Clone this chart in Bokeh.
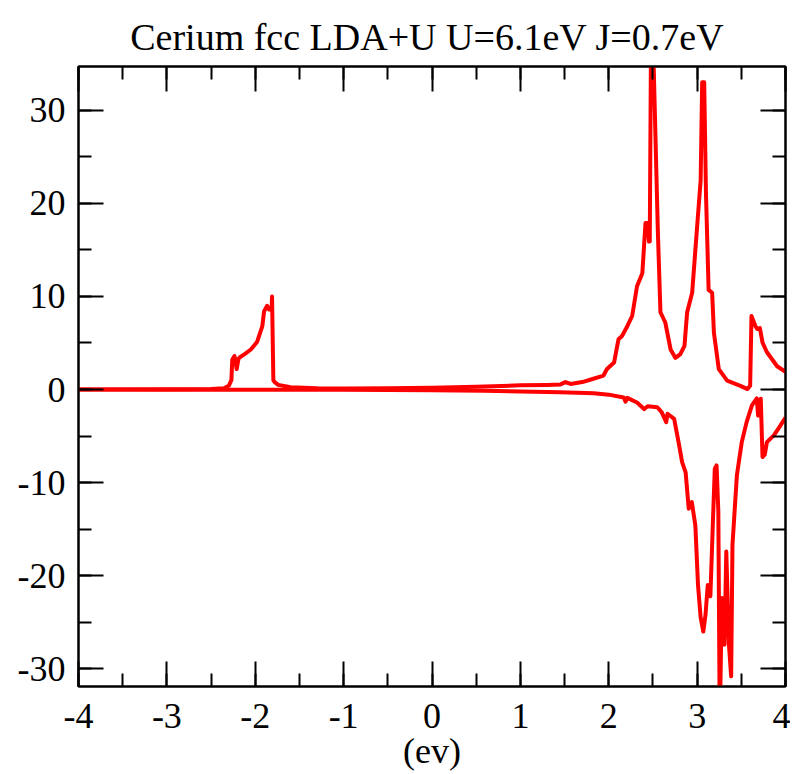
from bokeh.plotting import figure
from bokeh.models import (Range1d, LinearAxis, SingleIntervalTicker, ColumnDataSource, Title,
                          CustomJSTickFormatter)
from bokeh.embed import file_html
from bokeh.resources import INLINE

# ---- data ----
title_text = "Cerium  fcc LDA+U U=6.1eV J=0.7eV"
x_label = "(ev)"

up_energy = [-4.0, -3.0, -2.5, -2.35, -2.30, -2.27, -2.26, -2.235, -2.21, -2.19, -2.17,
             -2.12, -2.05, -1.98, -1.92, -1.90, -1.865, -1.845, -1.83, -1.815, -1.81,
             -1.795, -1.78, -1.74, -1.6, -1.3, -1.0, -0.5, 0.0, 0.5, 1.0, 1.3, 1.454,
             1.51, 1.567, 1.7, 1.79, 1.94, 1.98, 2.06, 2.11, 2.15, 2.21, 2.265, 2.32,
             2.38, 2.416, 2.44, 2.455, 2.464, 2.48, 2.49, 2.50, 2.555, 2.585, 2.64,
             2.70, 2.755, 2.81, 2.857, 2.887, 2.944, 3.00, 3.04, 3.057, 3.08, 3.10,
             3.13, 3.17, 3.19, 3.245, 3.34, 3.49, 3.57, 3.60, 3.615, 3.66, 3.68, 3.71,
             3.74, 3.79, 3.905, 4.0]
up_dos = [0.0, 0.02, 0.05, 0.15, 0.4, 1.0, 3.2, 3.6, 2.2, 3.3, 3.5,
          3.8, 4.3, 5.1, 6.8, 8.4, 9.0, 8.6, 8.8, 8.5, 10.0,
          1.0, 0.8, 0.5, 0.25, 0.15, 0.12, 0.15, 0.2, 0.3, 0.45, 0.5, 0.55,
          0.8, 0.6, 0.8, 1.05, 1.5, 2.2, 2.9, 5.4, 5.75, 6.8, 7.9, 11.1,
          12.5, 17.9, 17.9, 15.9, 15.9, 40.0, 31.0, 38.0, 17.2, 8.3, 7.2,
          4.3, 3.4, 3.8, 4.7, 8.3, 10.4, 17.5, 22.5, 33.0, 33.0, 21.1,
          10.7, 10.4, 6.1, 2.2, 0.95, 0.4, 0.05, 0.4, 7.9, 6.8, 6.5, 6.6,
          5.05, 4.0, 2.5, 1.9]

dn_energy = [-4.0, -3.0, -2.0, -1.0, -0.5, 0.0, 0.58, 1.0, 1.45, 1.83, 2.0, 2.17, 2.19,
             2.21, 2.32, 2.40, 2.44, 2.55, 2.60, 2.65, 2.665, 2.74, 2.79, 2.83, 2.87,
             2.905, 2.94, 2.98, 3.01, 3.04, 3.07, 3.095, 3.12, 3.15, 3.18, 3.20, 3.22,
             3.24, 3.256, 3.28, 3.31, 3.33, 3.36, 3.385, 3.40, 3.45, 3.505, 3.56, 3.62,
             3.675, 3.69, 3.72, 3.74, 3.765, 3.79, 3.87, 3.94, 4.0]
dn_dos = [0.0, -0.02, -0.03, -0.03, -0.05, -0.08, -0.13, -0.2, -0.3, -0.4, -0.55, -0.85, -1.3,
          -0.9, -1.4, -2.1, -1.8, -1.9, -2.45, -3.5, -2.6, -3.15, -5.65, -7.8, -8.9,
          -12.8, -12.1, -14.6, -21.0, -24.5, -26.0, -24.2, -21.0, -22.2, -13.85, -8.5, -8.15,
          -13.1, -36.0, -22.4, -27.4, -17.4, -27.4, -30.8, -16.7, -9.2, -5.65, -3.5, -1.7,
          -0.95, -2.8, -1.0, -7.25, -7.0, -5.65, -4.9, -3.9, -3.0]

x_start, x_end = -4.0, 4.0
y_start, y_end = -31.9, 34.7

FONT = "Liberation Serif"
RED = "#ff0000"

p = figure(width=790, height=773, output_backend="svg", toolbar_location=None,
           x_range=Range1d(x_start, x_end), y_range=Range1d(y_start, y_end),
           min_border_left=78, min_border_right=5, min_border_top=66, min_border_bottom=84,
           background_fill_color="white", border_fill_color="white")
p.title = None
p.xgrid.visible = False
p.ygrid.visible = False
p.outline_line_color = "black"
p.outline_line_width = 2

up_src = ColumnDataSource(dict(x=up_energy, y=up_dos))
dn_src = ColumnDataSource(dict(x=dn_energy, y=dn_dos))
p.line("x", "y", source=up_src, line_color=RED, line_width=4, line_join="round")
p.line("x", "y", source=dn_src, line_color=RED, line_width=4, line_join="round")

fmt_code = "return String(Math.round(tick));"


def style_axis(ax, show_labels=True):
    ax.axis_line_width = 2
    ax.axis_line_color = "black"
    ax.major_tick_in = 25
    ax.major_tick_out = 0
    ax.minor_tick_in = 13
    ax.minor_tick_out = 0
    ax.major_tick_line_width = 2
    ax.minor_tick_line_width = 2
    if show_labels:
        ax.major_label_text_font = FONT
        ax.major_label_text_font_size = "36px"
        ax.major_label_text_color = "black"
        ax.formatter = CustomJSTickFormatter(code=fmt_code)
    else:
        ax.major_label_text_font_size = "1px"
        ax.major_label_standoff = 0
        ax.formatter = CustomJSTickFormatter(code="return '';")


xt = SingleIntervalTicker(interval=1, num_minor_ticks=2)
yt = SingleIntervalTicker(interval=10, num_minor_ticks=2)

xa = p.xaxis[0]
xa.ticker = xt
style_axis(xa)
xa.major_label_standoff = 17
xa.axis_label = x_label
xa.axis_label_text_font = FONT
xa.axis_label_text_font_style = "normal"
xa.axis_label_text_font_size = "36px"
xa.axis_label_text_color = "black"
xa.axis_label_standoff = 0

ya = p.yaxis[0]
ya.ticker = yt
style_axis(ya)
ya.major_label_standoff = 13
ya.major_label_orientation = "horizontal"

top_ax = LinearAxis(ticker=SingleIntervalTicker(interval=1, num_minor_ticks=2))
style_axis(top_ax, show_labels=False)
p.add_layout(top_ax, "above")

right_ax = LinearAxis(ticker=SingleIntervalTicker(interval=10, num_minor_ticks=2))
style_axis(right_ax, show_labels=False)
p.add_layout(right_ax, "right")

p.add_layout(Title(text=title_text, text_font=FONT, text_font_size="38px",
                   text_color="black", text_font_style="normal", align="center",
                   text_line_height=1.0, standoff=18), "above")

open("out.html", "w").write(file_html(p, INLINE))
